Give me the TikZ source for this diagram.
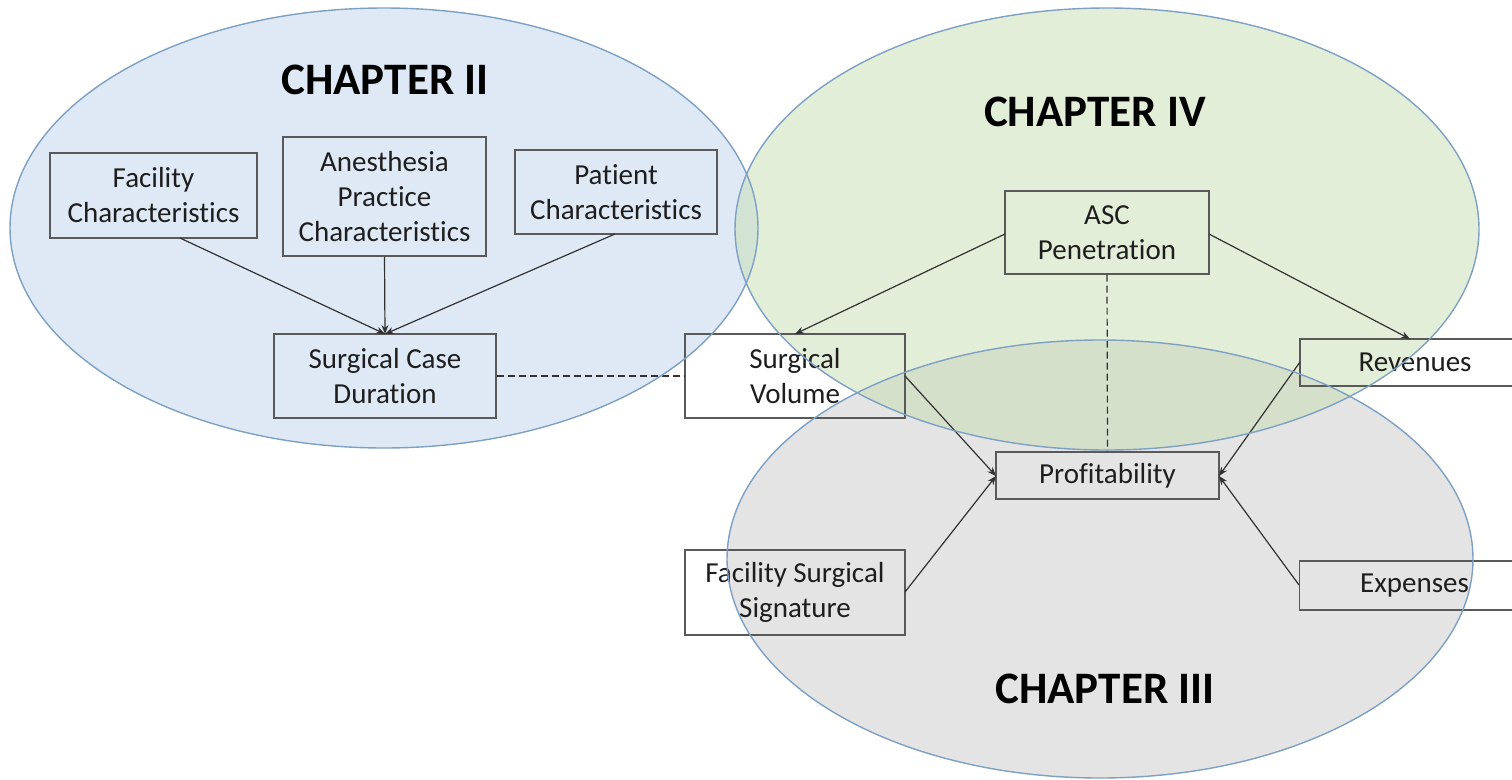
\documentclass[tikz,border=0pt]{standalone}
\usepackage{fontspec}
\setmainfont{Carlito}[Ligatures=NoCommon]
\usetikzlibrary{arrows.meta}
\definecolor{blueF}{RGB}{189,211,235}
\definecolor{greenF}{RGB}{199,221,179}
\definecolor{grayF}{RGB}{201,201,201}
\definecolor{ellEdge}{RGB}{125,160,195}
\definecolor{boxEdge}{RGB}{89,89,89}
\definecolor{lineC}{RGB}{50,50,50}
\definecolor{txtC}{RGB}{30,30,30}
\tikzset{
  box/.style={draw=boxEdge, line width=1.4pt, align=center, inner sep=0pt,
    font=\fontsize{29}{35}\selectfont, text=txtC},
  arr/.style={draw=lineC, line width=1.2pt, -{Stealth[length=9pt,width=7pt]}},
  dsh/.style={draw=lineC, line width=1.2pt, dash pattern=on 7pt off 4pt},
  title/.style={font=\fontsize{45}{54}\selectfont\bfseries, text=black},
  ellfill/.style={fill opacity=0.5},
  elledge/.style={draw=ellEdge, line width=1.4pt}
}
\begin{document}
\begin{tikzpicture}[x=1pt,y=-1pt]
\useasboundingbox (0,0) rectangle (1512,779);
\clip (0,0) rectangle (1512,779);
% ellipse fills
\fill[grayF, ellfill] (1100,559) ellipse [x radius=373, y radius=219];
\fill[blueF, ellfill] (384,228) ellipse [x radius=374, y radius=220];
\fill[greenF, ellfill] (1107,229) ellipse [x radius=372, y radius=221];
% titles
\node[title] (t2) at (385,80) {CHAPTER II};
\node[title] (t4) at (1095,112) {CHAPTER IV};
\node[title] (t3) at (1105,689) {CHAPTER III};
% boxes
\node[box, minimum width=207pt, minimum height=85pt] (fac) at (153.5,195.5) {Facility\\Characteristics};
\node[box, minimum width=203pt, minimum height=119pt] (anes) at (384.5,196.5) {Anesthesia\\Practice\\Characteristics};
\node[box, minimum width=202pt, minimum height=84pt] (pat) at (616,192) {Patient\\Characteristics};
\node[box, minimum width=222pt, minimum height=84pt] (scd) at (385,376) {Surgical Case\\Duration};
\node[box, minimum width=220pt, minimum height=84pt] (sv) at (795,376) {Surgical\\Volume};
\node[box, minimum width=204pt, minimum height=83pt] (asc) at (1107,232.5) {ASC\\Penetration};
\node[box, minimum width=223pt, minimum height=47pt] (prof) at (1107.5,475.5) {Profitability};
\node[box, minimum width=220pt, minimum height=85pt] (fss) at (795,592.5) {Facility Surgical\\Signature};
\node[box, minimum width=230pt, minimum height=47pt] (rev) at (1415,362.5) {Revenues};
\node[box, minimum width=230pt, minimum height=49pt] (exp) at (1414.5,585.5) {Expenses};
% connector anchors
\coordinate (facb) at (180,238);
\coordinate (patb) at (615,234);
\coordinate (scdt) at (385,334);
\coordinate (ascl) at (1005,234);
\coordinate (ascr) at (1209,234);
\coordinate (svt) at (795,334);
\coordinate (revt) at (1410,339);
\coordinate (profl) at (996,476);
\coordinate (profr) at (1219,476);
\coordinate (svr) at (905,376);
\coordinate (fssr) at (905,592);
\coordinate (revl) at (1300,362);
\coordinate (expl) at (1299,585);
% connectors
\draw[arr] (facb) -- (scdt);
\draw[arr] (anes.south) -- (scdt);
\draw[arr] (patb) -- (scdt);
\draw[dsh] (scd.east) -- (sv.west);
\draw[arr] (ascl) -- (svt);
\draw[arr] (ascr) -- (revt);
\draw[dsh] (asc.south) -- (prof.north);
\draw[arr] (svr) -- (profl);
\draw[arr] (fssr) -- (profl);
\draw[arr] (revl) -- (profr);
\draw[arr] (expl) -- (profr);
% ellipse outlines
\draw[elledge] (1100,559) ellipse [x radius=373, y radius=219];
\draw[elledge] (384,228) ellipse [x radius=374, y radius=220];
\draw[elledge] (1107,229) ellipse [x radius=372, y radius=221];
\end{tikzpicture}
\end{document}
